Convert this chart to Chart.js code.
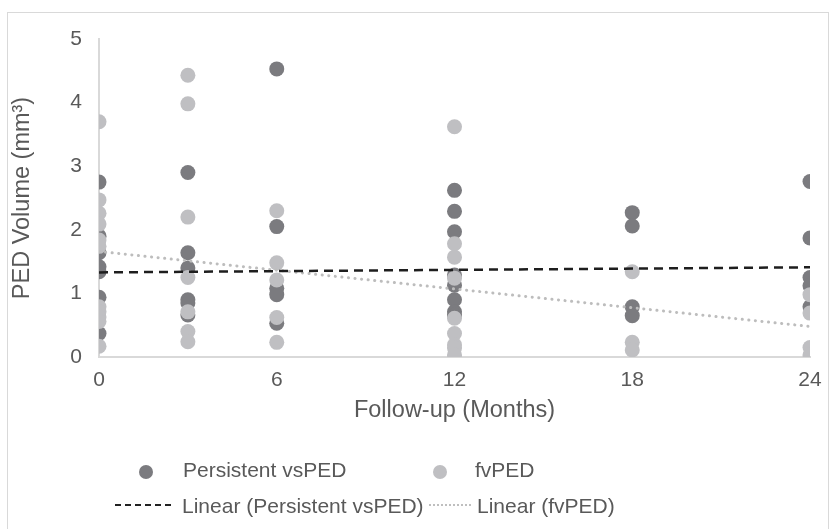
<!DOCTYPE html>
<html>
<head>
<meta charset="utf-8">
<script src="https://cdn.jsdelivr.net/npm/chart.js@4.4.1/dist/chart.umd.min.js"></script>
<style>
  html, body { margin: 0; padding: 0; background: #fff; }
  body { width: 838px; height: 529px; position: relative; overflow: hidden; font-family: "Liberation Sans", Arial, sans-serif; }
  #frame { position: absolute; left: 7px; top: 12px; width: 822px; height: 530px; border: 1px solid #d9d9d9; box-sizing: border-box; }
  #wrap { position: absolute; left: 0; top: 0; width: 838px; height: 529px; }
  .legend { position: absolute; font-size: 21px; color: #595959; white-space: nowrap; line-height: 24px; }
  .dot { position: absolute; width: 14px; height: 14px; border-radius: 50%; }
  .ln { position: absolute; height: 0; }
</style>
</head>
<body>
<div id="frame"></div>
<div id="wrap"><canvas id="chart" width="838" height="529"></canvas></div>

<div class="dot" style="left:139px;top:465px;background:#7b7b7f"></div>
<div class="legend" style="left:183px;top:458px">Persistent vsPED</div>
<div class="dot" style="left:433px;top:465px;background:#bfbfc2"></div>
<div class="legend" style="left:475px;top:458px">fvPED</div>

<div class="ln" style="left:115px;top:504px;width:56px;border-top:2px dashed #222"></div>
<div class="legend" style="left:182px;top:494px">Linear (Persistent vsPED)</div>
<div class="ln" style="left:429px;top:504px;width:42px;border-top:2px dotted #bfbfbf"></div>
<div class="legend" style="left:477px;top:494px">Linear (fvPED)</div>

<script>
// Persistent vsPED points
const persistentMonths = [0, 0, 0, 0, 0, 0, 0,
  3, 3, 3, 3, 3, 3,
  6, 6, 6, 6, 6,
  12, 12, 12, 12, 12, 12, 12, 12,
  18, 18, 18, 18,
  24, 24, 24, 24, 24];
const persistentVolumes = [2.75, 1.90, 1.64, 1.42, 1.34, 0.94, 0.37,
  2.90, 1.64, 1.40, 0.90, 0.85, 0.66,
  4.53, 2.05, 1.08, 0.98, 0.53,
  2.62, 2.29, 1.97, 1.29, 1.13, 0.90, 0.71, 0.66,
  2.27, 2.06, 0.79, 0.65,
  2.76, 1.87, 1.25, 1.12, 0.79];

// fvPED points
const fvMonths = [0, 0, 0, 0, 0, 0, 0, 0, 0, 0, 0,
  3, 3, 3, 3, 3, 3, 3,
  6, 6, 6, 6, 6,
  12, 12, 12, 12, 12, 12, 12, 12, 12,
  18, 18, 18,
  24, 24, 24, 24];
const fvVolumes = [3.70, 2.47, 2.26, 2.09, 1.84, 1.74, 0.79, 0.71, 0.63, 0.56, 0.17,
  4.43, 3.98, 2.20, 1.25, 0.71, 0.40, 0.24,
  2.30, 1.48, 1.21, 0.62, 0.23,
  3.62, 1.78, 1.57, 1.24, 0.61, 0.37, 0.19, 0.14, 0.03,
  1.34, 0.23, 0.11,
  0.98, 0.69, 0.15, 0.03];

// trend line end points
const trendMonths = [0, 24];
const trendPersistent = [1.33, 1.41];
const trendFv = [1.66, 0.48];

const xTicks = [0, 6, 12, 18, 24];
const yTicks = [0, 1, 2, 3, 4, 5];

const toPoints = (xs, ys) => xs.map((x, i) => ({ x: x, y: ys[i] }));

const gray = "#595959";
const tickFont = { family: "'Liberation Sans', Arial, sans-serif", size: 21 };
const titleFont = { family: "'Liberation Sans', Arial, sans-serif", size: 23.5 };

new Chart(document.getElementById("chart"), {
  type: "scatter",
  data: {
    datasets: [
      {
        label: "Linear (Persistent vsPED)",
        type: "line",
        data: toPoints(trendMonths, trendPersistent),
        borderColor: "#1e1e1e",
        borderWidth: 2.5,
        borderDash: [9, 6],
        pointRadius: 0,
        fill: false,
        order: 1
      },
      {
        label: "Linear (fvPED)",
        type: "line",
        data: toPoints(trendMonths, trendFv),
        borderColor: "#bdbdbd",
        borderWidth: 3,
        borderDash: [0.1, 6.5],
        borderCapStyle: "round",
        pointRadius: 0,
        fill: false,
        order: 2
      },
      {
        label: "fvPED",
        data: toPoints(fvMonths, fvVolumes),
        backgroundColor: "#bfbfc2",
        borderWidth: 0,
        pointRadius: 7.5,
        order: 3
      },
      {
        label: "Persistent vsPED",
        data: toPoints(persistentMonths, persistentVolumes),
        backgroundColor: "#7b7b7f",
        borderWidth: 0,
        pointRadius: 7.5,
        order: 4
      }
    ]
  },
  options: {
    responsive: false,
    animation: false,
    layout: { padding: { left: 4, top: 39, right: 28, bottom: 100 } },
    plugins: { legend: { display: false }, tooltip: { enabled: false } },
    scales: {
      x: {
        type: "linear",
        min: 0, max: 24,
        afterBuildTicks: s => { s.ticks = xTicks.map(v => ({ value: v })); },
        afterFit: s => { s.height = 72; },
        grid: { display: false, drawTicks: false },
        border: { display: true, color: "#d9d9d9", width: 2 },
        ticks: { color: gray, font: tickFont, padding: 11, maxRotation: 0 },
        title: { display: true, text: "Follow-up (Months)", color: gray, font: titleFont, padding: { top: 4, bottom: 4 } }
      },
      y: {
        min: 0, max: 5,
        afterBuildTicks: s => { s.ticks = yTicks.map(v => ({ value: v })); },
        afterFit: s => { s.width = 95; },
        grid: { display: false, drawTicks: false },
        border: { display: true, color: "#d9d9d9", width: 2 },
        ticks: { color: gray, font: tickFont, padding: 17 },
        title: { display: true, text: "PED Volume (mm³)", color: gray, font: titleFont, padding: { top: 4, bottom: 4 } }
      }
    }
  }
});
</script>
</body>
</html>
